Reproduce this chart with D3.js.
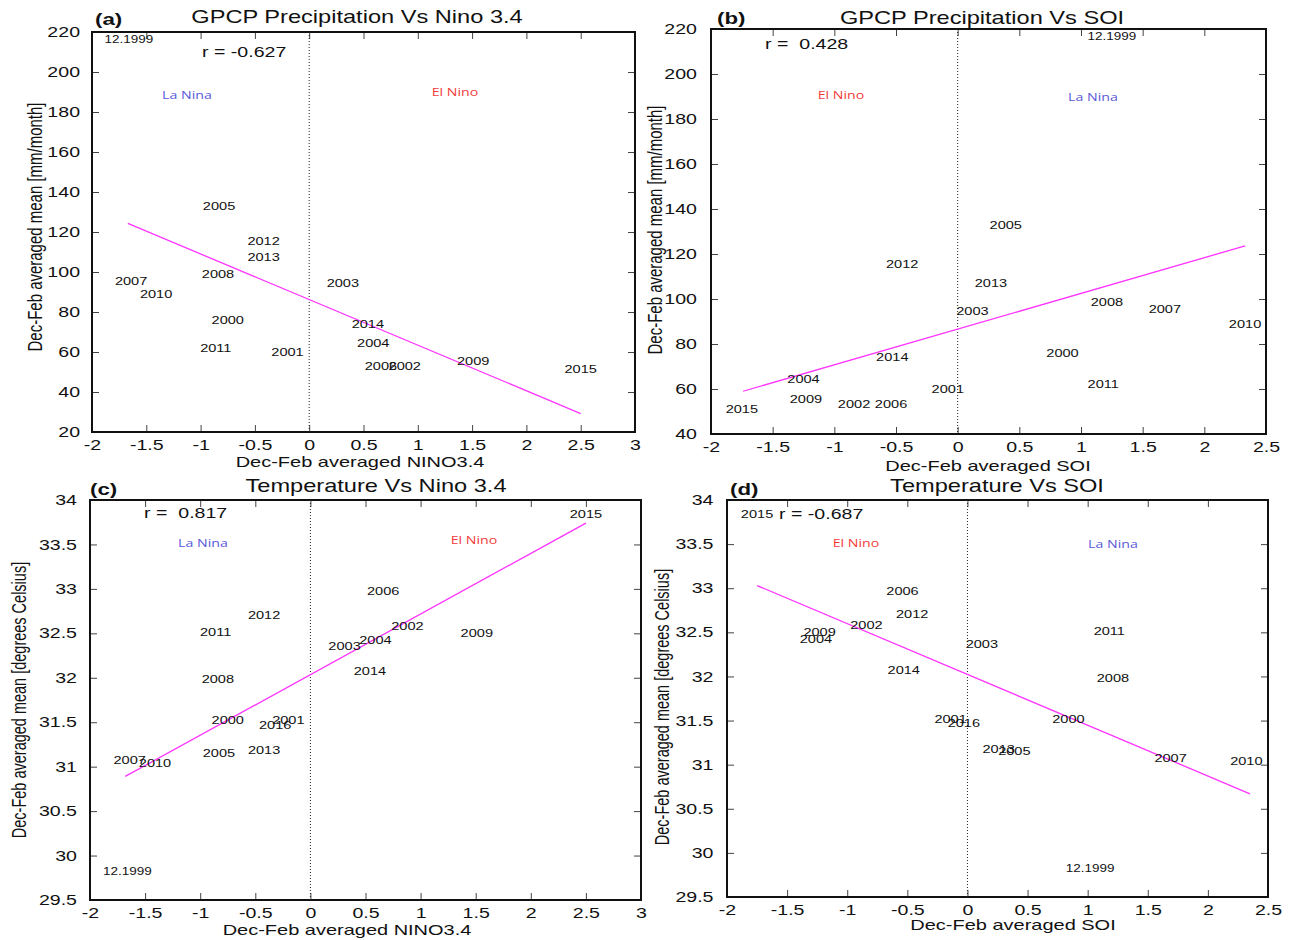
<!DOCTYPE html>
<html>
<head>
<meta charset="utf-8">
<script src="https://cdn.jsdelivr.net/npm/d3@7"></script>
<style>
  body { margin: 0; background: #fff; }
  svg { display: block; font-family: "Liberation Sans", Arial, sans-serif; }
  text { white-space: pre; }
</style>
</head>
<body>
<script>
// year labels (each label is the plotted point)
const years = ["12.1999","2000","2001","2002","2003","2004","2005","2006","2007","2008",
               "2009","2010","2011","2012","2013","2014","2015","2016"];
// Dec-Feb averaged indices
const nino34 = [-1.66,-0.75,-0.20,0.88,0.31,0.59,-0.83,0.66,-1.64,-0.84,1.51,-1.41,-0.86,-0.42,-0.42,0.54,2.50,-0.32];
const soiPrecip = [1.25,0.85,-0.08,-0.84,0.12,-1.25,0.39,-0.54,1.68,1.21,-1.23,2.33,1.18,-0.45,0.27,-0.53,-1.75,null];
const soiTemp = [1.02,0.84,-0.14,-0.84,0.12,-1.26,0.39,-0.54,1.69,1.21,-1.23,2.32,1.18,-0.46,0.26,-0.53,-1.75,-0.03];
// Dec-Feb averaged means
const precip = [216.5,76,59.8,53.1,94.5,64.2,133,53.1,95.6,98.7,55.3,88.8,62.1,115.3,107.2,74,51.2,null];
const temp = [29.82,31.52,31.52,32.58,32.36,32.42,31.15,32.97,31.07,31.98,32.50,31.04,32.51,32.70,31.18,32.07,33.84,31.47];

// regression lines, end points
const fitA = [[-1.67,124.3],[2.50,29.2]];
const fitB = [[-1.74,59.0],[2.33,123.6]];
const fitC = [[-1.68,30.89],[2.50,33.74]];
const fitD = [[-1.75,33.03],[2.35,30.67]];
const rValues = ["r = -0.627","r =  0.428","r =  0.817","r = -0.687"];

// tick labels
const ticksNino = [-2,-1.5,-1,-0.5,0,0.5,1,1.5,2,2.5,3];
const ticksSoi = [-2,-1.5,-1,-0.5,0,0.5,1,1.5,2,2.5];
const ticksPrecipA = [20,40,60,80,100,120,140,160,180,200,220];
const ticksPrecipB = [40,60,80,100,120,140,160,180,200,220];
const ticksTemp = [29.5,30,30.5,31,31.5,32,32.5,33,33.5,34];

const W = 1291, H = 940;
const SX = 1.35;   // the source figure is stretched sideways
const laNina = "#5a5ad8", elNino = "#f23a3a";

const panels = [
  { tag:"(a)", title:"GPCP Precipitation Vs Nino 3.4", xs:nino34, ys:precip, fit:fitA, r:rValues[0],
    xDom:[-2,3], yDom:[20,220], xR:[92,635], yR:[432,32], xT:ticksNino, yT:ticksPrecipA,
    xLab:"Dec-Feb averaged NINO3.4", yLab:"Dec-Feb averaged mean [mm/month]",
    tagP:[95,25], titleP:[357,23], rP:[202,57], xLabP:[360,467], yLabP:[35,227], yPad:12, yLabSize:15,
    left:["La Nina",laNina,187,99], right:["El Nino",elNino,455,96] },
  { tag:"(b)", title:"GPCP Precipitation Vs SOI", xs:soiPrecip, ys:precip, fit:fitB, r:rValues[1],
    xDom:[-2,2.5], yDom:[40,220], xR:[711,1266], yR:[434,29], xT:ticksSoi, yT:ticksPrecipB,
    xLab:"Dec-Feb averaged SOI", yLab:"Dec-Feb averaged mean [mm/month]",
    tagP:[717,24], titleP:[982,24], rP:[765,49], xLabP:[988,471], yLabP:[655,230], yPad:14, yLabSize:15,
    left:["El Nino",elNino,841,99], right:["La Nina",laNina,1093,101] },
  { tag:"(c)", title:"Temperature Vs Nino 3.4", xs:nino34, ys:temp, fit:fitC, r:rValues[2],
    xDom:[-2,3], yDom:[29.5,34], xR:[90,641], yR:[900,500], xT:ticksNino, yT:ticksTemp,
    xLab:"Dec-Feb averaged NINO3.4", yLab:"Dec-Feb averaged mean [degrees Celsius]",
    tagP:[90,495], titleP:[376,492], rP:[144,518], xLabP:[347,935], yLabP:[19,700], yPad:13, yLabSize:14.5,
    left:["La Nina",laNina,203,547], right:["El Nino",elNino,474,544] },
  { tag:"(d)", title:"Temperature Vs SOI", xs:soiTemp, ys:temp, fit:fitD, r:rValues[3],
    xDom:[-2,2.5], yDom:[29.5,34], xR:[727,1268], yR:[897,500], xT:ticksSoi, yT:ticksTemp,
    xLab:"Dec-Feb averaged SOI", yLab:"Dec-Feb averaged mean [degrees Celsius]",
    tagP:[730,495], titleP:[997,492], rP:[779,519], xLabP:[1013,930], yLabP:[662,707], yPad:13.5, yLabSize:14.5,
    left:["El Nino",elNino,856,547], right:["La Nina",laNina,1113,548] }
];

const svg = d3.select("body").append("svg").attr("width", W).attr("height", H);

//text stretched sideways like the source
function txt(g, x, y, s, size, opts) {
  opts = opts || {};
  return g.append("text")
    .attr("transform", "translate(" + x + "," + y + ") scale(" + SX + ",1)" + (opts.rot ? " rotate(-90)" : ""))
    .attr("text-anchor", opts.anchor || "start")
    .attr("dy", opts.dy || null)
    .style("font-size", size + "px")
    .style("font-weight", opts.bold ? "bold" : null)
    .style("font-family", opts.family || null)
    .attr("fill", opts.fill || "#111")
    .text(s);
}

panels.forEach(function(p) {
  const g = svg.append("g");
  const x = d3.scaleLinear().domain(p.xDom).range(p.xR);
  const y = d3.scaleLinear().domain(p.yDom).range(p.yR);
  const fmt = d => String(d);

  // axes, ticks pointing inward
  const xb = g.append("g").attr("transform", "translate(0," + p.yR[0] + ")")
    .call(d3.axisBottom(x).tickValues(p.xT).tickFormat(fmt).tickSizeInner(-7).tickSizeOuter(0).tickPadding(8));
  const yl = g.append("g").attr("transform", "translate(" + p.xR[0] + ",0)")
    .call(d3.axisLeft(y).tickValues(p.yT).tickFormat(fmt).tickSizeInner(-7).tickSizeOuter(0));
  g.append("g").attr("transform", "translate(0," + p.yR[1] + ")")
    .call(d3.axisTop(x).tickValues(p.xT).tickFormat("").tickSizeInner(-7).tickSizeOuter(0));
  g.append("g").attr("transform", "translate(" + p.xR[1] + ",0)")
    .call(d3.axisRight(y).tickValues(p.yT).tickFormat("").tickSizeInner(-7).tickSizeOuter(0));
  g.selectAll(".domain").remove();
  g.selectAll(".tick line").attr("stroke", "#444").attr("stroke-width", 1);

  xb.selectAll("text").attr("transform", "scale(" + SX + ",1)")
    .style("font-size", "14.5px").style("font-family", "Liberation Sans, Arial, sans-serif").attr("fill", "#111");
  yl.selectAll("text").attr("transform", "scale(" + SX + ",1)").attr("x", -p.yPad / SX)
    .style("font-size", "14.5px").style("font-family", "Liberation Sans, Arial, sans-serif").attr("fill", "#111");

  // frame
  g.append("rect")
    .attr("x", p.xR[0]).attr("y", p.yR[1])
    .attr("width", p.xR[1] - p.xR[0]).attr("height", p.yR[0] - p.yR[1])
    .attr("fill", "none").attr("stroke", "#111").attr("stroke-width", 2);

  // dotted zero line
  g.append("line")
    .attr("x1", x(0)).attr("x2", x(0)).attr("y1", p.yR[1]).attr("y2", p.yR[0])
    .attr("stroke", "#222").attr("stroke-width", 1).attr("stroke-dasharray", "1,2");

  // regression line
  g.append("path").datum(p.fit)
    .attr("d", d3.line().x(d => x(d[0])).y(d => y(d[1])))
    .attr("fill", "none").attr("stroke", "#ff33ff").attr("stroke-width", 1.3);

  // year labels as points
  const idx = d3.range(years.length).filter(i => p.xs[i] != null && p.ys[i] != null);
  g.selectAll("text.pt").data(idx).join("text")
    .attr("class", "pt")
    .attr("transform", i => "translate(" + x(p.xs[i]) + "," + y(p.ys[i]) + ") scale(" + SX + ",1)")
    .attr("text-anchor", "middle").attr("dy", "0.35em")
    .style("font-size", i => (i === 0 ? 10 : 10.8) + "px")
    .attr("fill", "#111")
    .text(i => years[i]);

  // texts
  txt(g, p.tagP[0], p.tagP[1], p.tag, 16.5, { bold: true });
  txt(g, p.titleP[0], p.titleP[1], p.title, 17.5, { anchor: "middle" });
  txt(g, p.rP[0], p.rP[1], p.r, 14.5, {});
  txt(g, p.xLabP[0], p.xLabP[1], p.xLab, 14.8, { anchor: "middle" });
  txt(g, p.yLabP[0], p.yLabP[1], p.yLab, p.yLabSize, { anchor: "middle", rot: true, dy: "0.35em" });
  [p.left, p.right].forEach(function(l) {
    txt(g, l[2], l[3], l[0], 10.5, { anchor: "middle", fill: l[1], family: "'Open Sans', sans-serif" });
  });
});
</script>
</body>
</html>
